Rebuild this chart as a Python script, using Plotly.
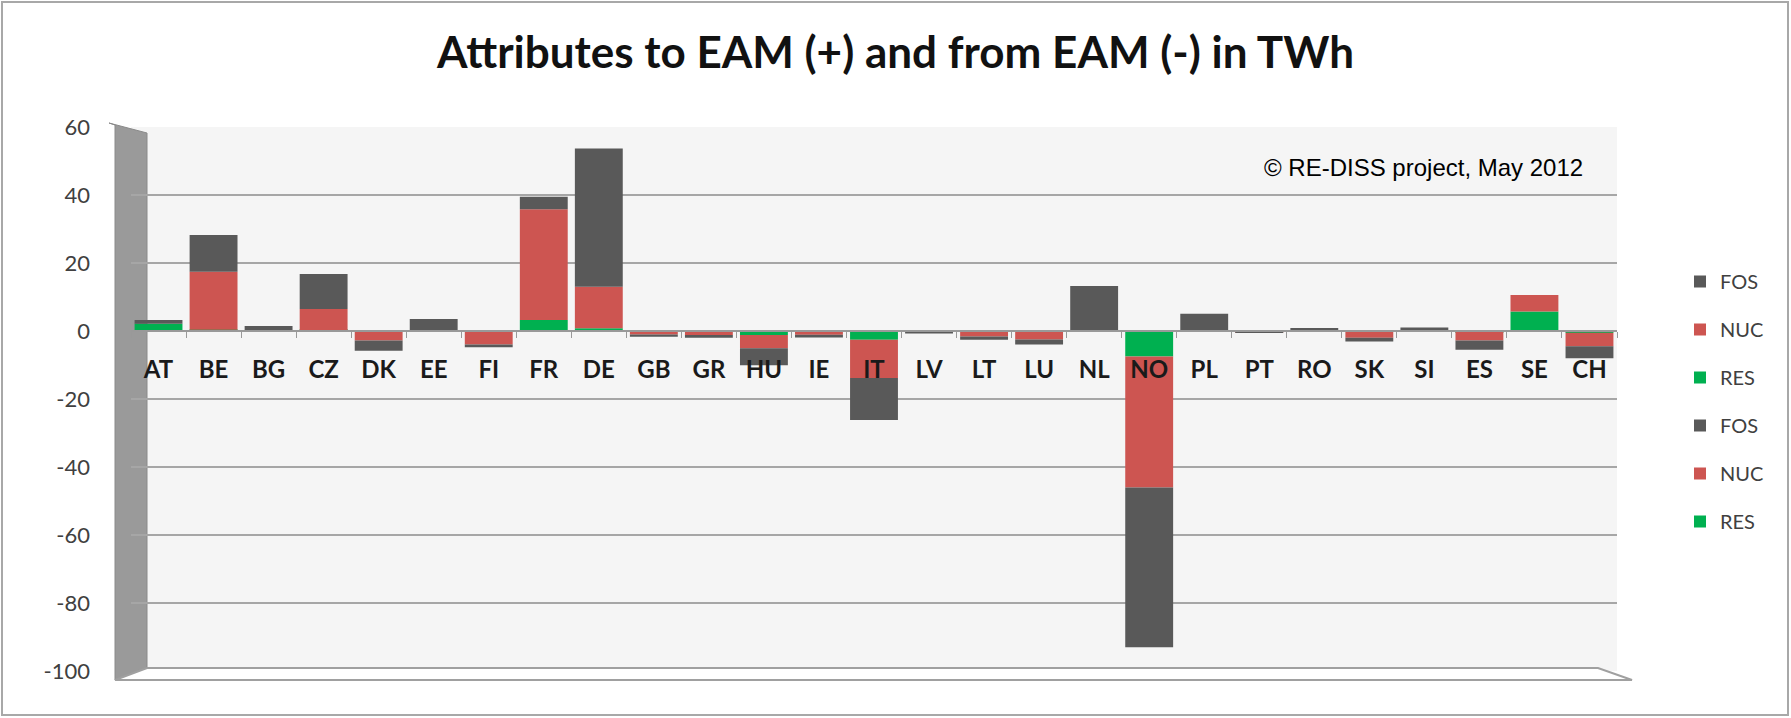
import plotly.graph_objects as go

categories = ["AT", "BE", "BG", "CZ", "DK", "EE", "FI", "FR", "DE", "GB", "GR", "HU", "IE", "IT",
              "LV", "LT", "LU", "NL", "NO", "PL", "PT", "RO", "SK", "SI", "ES", "SE", "CH"]

# attributes to EAM (+)
pos_res = [2.1, 0.4, 0, 0.3, 0, 0, 0, 3.2, 0.8, 0, 0, 0, 0, 0, 0, 0, 0, 0, 0, 0, 0, 0, 0, 0, 0, 5.7, 0]
pos_nuc = [0, 17.0, 0, 6.2, 0, 0, 0, 32.6, 12.2, 0, 0, 0, 0, 0, 0, 0, 0, 0, 0, 0, 0, 0, 0, 0, 0, 4.9, 0]
pos_fos = [1.1, 10.8, 1.5, 10.3, 0, 3.5, 0, 3.7, 40.7, 0, 0, 0, 0, 0, 0, 0, 0, 13.2, 0, 5.1, 0, 0.9, 0, 1.0, 0, 0, 0]

# attributes from EAM (-)
neg_res = [0, 0, 0, 0, 0, 0, 0, 0, 0, 0, 0, -1.2, 0, -2.6, 0, 0, 0, 0, -7.5, 0, 0, 0, 0, 0, -0.3, 0, -0.5]
neg_nuc = [0, 0, 0, 0, -2.8, 0, -4.0, 0, 0, -1.0, -1.2, -3.9, -1.1, -11.2, 0, -1.6, -2.5, 0, -38.5, 0, -0.3, 0, -2.0, 0, -2.5, 0, -4.0]
neg_fos = [0, 0, 0, 0, -3.0, 0, -0.8, 0, 0, -0.7, -0.8, -5.0, -0.8, -12.4, -0.7, -1.0, -1.5, 0, -47.0, 0, -0.2, 0, -1.1, 0, -2.7, 0, -3.5]

series_names = ["RES", "NUC", "FOS"]
y_ticks = [60, 40, 20, 0, -20, -40, -60, -80, -100]

title_text = "Attributes to EAM (+) and from EAM (-) in TWh"
credit_text = "© RE-DISS project, May 2012"

COL = {"FOS": "#595959", "NUC": "#CD5551", "RES": "#00B050"}
RANK = {"FOS": 1, "NUC": 2, "RES": 3}

W, H = 1791, 718
L, R, T, B = 131, 1617, 127, 671   # plot area in pixels


def px(x):
    return (x - L) / (R - L)


def py(y):
    return (B - y) / (B - T)


fig = go.Figure()
for name, vals in zip(series_names, [pos_res, pos_nuc, pos_fos]):
    fig.add_trace(go.Bar(x=categories, y=vals, name=name, legendgroup="p" + name,
                         legendrank=RANK[name],
                         marker=dict(color=COL[name], line=dict(width=0))))
for name, vals in zip(series_names, [neg_res, neg_nuc, neg_fos]):
    fig.add_trace(go.Bar(x=categories, y=vals, name=name, legendgroup="n" + name,
                         legendrank=RANK[name] + 3,
                         marker=dict(color=COL[name], line=dict(width=0))))

shapes = [
    # side wall
    dict(type="path", xref="paper", yref="paper", layer="between",
         path=f"M {px(109)} {py(123)} L {px(147)} {py(133)} L {px(147)} {py(668)} L {px(115)} {py(680)} L {px(115)} {py(125)} Z",
         fillcolor="#9a9a9a", line=dict(color="#8a8a8a", width=1)),
    # floor
    dict(type="path", xref="paper", yref="paper", layer="above",
         path=f"M {px(115)} {py(680)} L {px(147)} {py(668)} L {px(1598)} {py(668)} L {px(1632)} {py(680)} Z",
         fillcolor="white", line=dict(color="#a0a0a0", width=2)),
    # outer frame
    dict(type="rect", xref="paper", yref="paper", layer="above",
         x0=px(2), x1=px(1788), y0=py(715), y1=py(2),
         line=dict(color="#a8a8a8", width=2)),
]

fig.update_layout(
    width=W, height=H,
    margin=dict(l=L, r=W - R, t=T, b=H - B, pad=0),
    paper_bgcolor="white",
    plot_bgcolor="#f5f5f5",
    barmode="relative",
    bargap=0.13,
    font=dict(family="Lato, sans-serif", color="#262626"),
    title=dict(text=f"<b>{title_text}</b>", x=0.5, xanchor="center", xref="container",
               y=1 - 53 / H, yanchor="middle",
               font=dict(family="Lato, sans-serif", size=44, color="#111111")),
    xaxis=dict(anchor="free", position=100 / 160, showline=True, linecolor="#999999", linewidth=2,
               ticks="outside", tickson="boundaries", ticklen=6, tickcolor="#999999",
               tickfont=dict(family="Lato, sans-serif", size=24, color="#1a1a1a", weight="bold"),
               ticklabelstandoff=17, showgrid=False, zeroline=False, fixedrange=True),
    yaxis=dict(range=[-100, 60], tickvals=y_ticks, ticktext=[str(v) for v in y_ticks],
               showgrid=True, gridcolor="#a6a6a6", gridwidth=2,
               zeroline=False, showline=False, ticks="", ticklabelstandoff=40,
               tickfont=dict(family="Lato, sans-serif", size=22, color="#404040")),
    legend=dict(x=px(1680), xanchor="left", y=py(262), yanchor="top",
                traceorder="grouped", tracegroupgap=19,
                font=dict(family="Lato, sans-serif", size=20, color="#404040"),
                bgcolor="rgba(0,0,0,0)"),
    shapes=shapes,
    annotations=[dict(text=credit_text, xref="paper", yref="paper", x=px(1585), y=py(168),
                      xanchor="right", yanchor="middle", showarrow=False,
                      font=dict(family="Liberation Sans, Arial, sans-serif", size=24, color="#000000"))],
)

fig.write_html("out.html", config={"displayModeBar": False},
               post_script="document.body.style.margin='0';")
